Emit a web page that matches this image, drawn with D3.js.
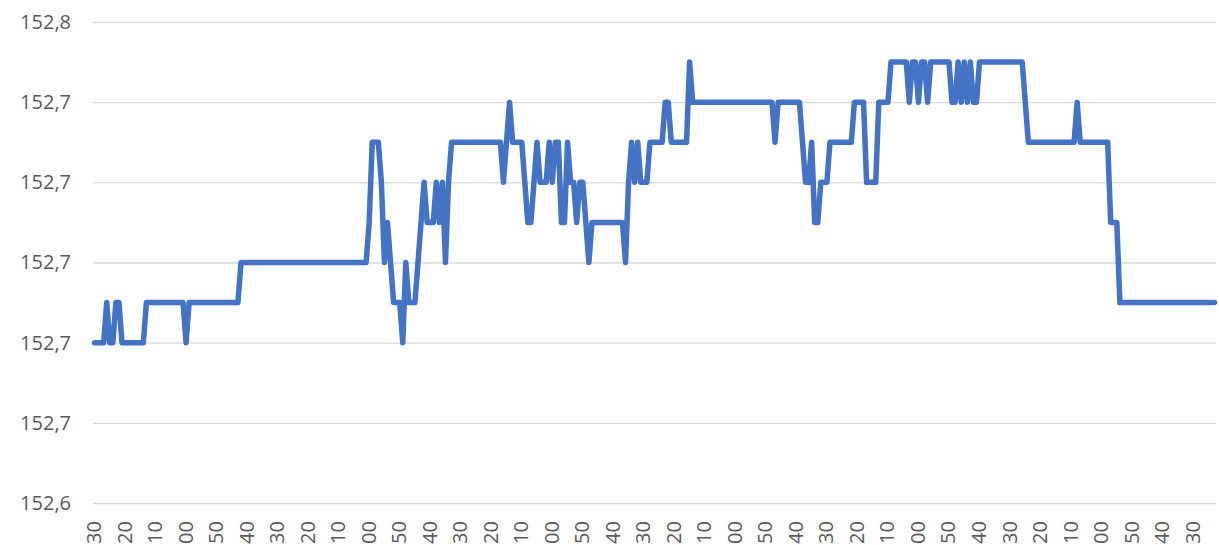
<!DOCTYPE html>
<html>
<head>
<meta charset="utf-8">
<script src="https://cdn.jsdelivr.net/npm/d3@7"></script>
<style>
	body { margin: 0; background: #ffffff; }
	svg { display: block; }
	text { font-family: "Open Sans", "Noto Sans", sans-serif; fill: #595959; }
</style>
</head>
<body>
<div class="chart"></div>
<script>
//Tick labels shown on the category axis (one every 10 points)
var timeLabels = ["30","20","10","00","50","40","30","20","10","00","50","40",
	"30","20","10","00","50","40","30","20","10","00","50","40",
	"30","20","10","00","50","40","30","20","10","00","50","40","30"];

//Value axis ticks
var yTicks = [152.64, 152.66, 152.68, 152.70, 152.72, 152.74, 152.76];

//The series, one line per 10 points
var priceValues = [
	152.68,152.68,152.68,152.68,152.69,152.68,152.68,152.69,152.69,152.68,
	152.68,152.68,152.68,152.68,152.68,152.68,152.68,152.69,152.69,152.69,
	152.69,152.69,152.69,152.69,152.69,152.69,152.69,152.69,152.69,152.69,
	152.68,152.69,152.69,152.69,152.69,152.69,152.69,152.69,152.69,152.69,
	152.69,152.69,152.69,152.69,152.69,152.69,152.69,152.69,152.70,152.70,
	152.70,152.70,152.70,152.70,152.70,152.70,152.70,152.70,152.70,152.70,
	152.70,152.70,152.70,152.70,152.70,152.70,152.70,152.70,152.70,152.70,
	152.70,152.70,152.70,152.70,152.70,152.70,152.70,152.70,152.70,152.70,
	152.70,152.70,152.70,152.70,152.70,152.70,152.70,152.70,152.70,152.70,
	152.71,152.73,152.73,152.73,152.72,152.70,152.71,152.70,152.69,152.69,
	152.69,152.68,152.70,152.69,152.69,152.69,152.70,152.71,152.72,152.71,
	152.71,152.71,152.72,152.71,152.72,152.70,152.72,152.73,152.73,152.73,
	152.73,152.73,152.73,152.73,152.73,152.73,152.73,152.73,152.73,152.73,
	152.73,152.73,152.73,152.73,152.72,152.73,152.74,152.73,152.73,152.73,
	152.73,152.72,152.71,152.71,152.72,152.73,152.72,152.72,152.72,152.73,
	152.72,152.73,152.73,152.71,152.71,152.73,152.72,152.72,152.71,152.72,
	152.72,152.71,152.70,152.71,152.71,152.71,152.71,152.71,152.71,152.71,
	152.71,152.71,152.71,152.71,152.70,152.72,152.73,152.72,152.73,152.72,
	152.72,152.72,152.73,152.73,152.73,152.73,152.73,152.74,152.74,152.73,
	152.73,152.73,152.73,152.73,152.73,152.75,152.74,152.74,152.74,152.74,
	152.74,152.74,152.74,152.74,152.74,152.74,152.74,152.74,152.74,152.74,
	152.74,152.74,152.74,152.74,152.74,152.74,152.74,152.74,152.74,152.74,
	152.74,152.74,152.74,152.73,152.74,152.74,152.74,152.74,152.74,152.74,
	152.74,152.74,152.73,152.72,152.72,152.73,152.71,152.71,152.72,152.72,
	152.72,152.73,152.73,152.73,152.73,152.73,152.73,152.73,152.73,152.74,
	152.74,152.74,152.74,152.72,152.72,152.72,152.72,152.74,152.74,152.74,
	152.74,152.75,152.75,152.75,152.75,152.75,152.75,152.74,152.75,152.75,
	152.74,152.75,152.75,152.74,152.75,152.75,152.75,152.75,152.75,152.75,
	152.75,152.74,152.74,152.75,152.74,152.75,152.74,152.75,152.74,152.74,
	152.75,152.75,152.75,152.75,152.75,152.75,152.75,152.75,152.75,152.75,
	152.75,152.75,152.75,152.75,152.75,152.74,152.73,152.73,152.73,152.73,
	152.73,152.73,152.73,152.73,152.73,152.73,152.73,152.73,152.73,152.73,
	152.73,152.73,152.74,152.73,152.73,152.73,152.73,152.73,152.73,152.73,
	152.73,152.73,152.73,152.71,152.71,152.71,152.69,152.69,152.69,152.69,
	152.69,152.69,152.69,152.69,152.69,152.69,152.69,152.69,152.69,152.69,
	152.69,152.69,152.69,152.69,152.69,152.69,152.69,152.69,152.69,152.69,
	152.69,152.69,152.69,152.69,152.69,152.69,152.69,152.69
];

var w = 1219;
var h = 545;
var plotLeft = 93, plotRight = 1216;
var plotTop = 22, plotBottom = 503;

var svg = d3.select(".chart").append("svg")
	.attr("width", w)
	.attr("height", h);

var x = d3.scaleBand()
	.domain(d3.range(priceValues.length))
	.range([plotLeft, plotRight]);

var y = d3.scaleLinear()
	.domain([yTicks[0], yTicks[yTicks.length - 1]])
	.range([plotBottom, plotTop]);

//comma as decimal mark
var fmt = d3.formatLocale({decimal: ",", thousands: ".", grouping: [3], currency: ["", ""]}).format(".1f");

//gridlines + value labels
var yAxis = d3.axisLeft(y)
	.tickValues(yTicks)
	.tickSize(-(plotRight - plotLeft))
	.tickPadding(22)
	.tickFormat(fmt);

var yg = svg.append("g")
	.attr("transform", "translate(" + plotLeft + ",0)")
	.call(yAxis);
yg.select(".domain").remove();
yg.selectAll(".tick line")
	.attr("stroke", "#d9d9d9")
	.attr("stroke-width", 1.3);
yg.selectAll(".tick text")
	.style("font-size", "20px")
	.style("font-family", "'Open Sans', sans-serif")
	.attr("fill", "#595959");

//category labels, one every 10 points
var labelIdx = d3.range(0, priceValues.length, 10);
var xAxis = d3.axisBottom(x)
	.tickValues(labelIdx)
	.tickSize(0)
	.tickFormat(function(d, i){ return timeLabels[i]; });

var xg = svg.append("g")
	.attr("transform", "translate(0," + plotBottom + ")")
	.call(xAxis);
xg.select(".domain").remove();
xg.selectAll(".tick text")
	.style("font-size", "20px")
	.style("font-family", "'Open Sans', sans-serif")
	.attr("fill", "#595959")
	.attr("text-anchor", "end")
	.attr("dy", null)
	.attr("y", 0)
	.attr("dominant-baseline", "central")
	.attr("transform", "translate(-1,18) rotate(-90)");

var line = d3.line()
	.x(function(d, i){ return x(i) + x.bandwidth() / 2; })
	.y(function(d){ return y(d); });

svg.append("path")
	.datum(priceValues)
	.attr("d", line)
	.attr("fill", "none")
	.attr("stroke", "#4472c4")
	.attr("stroke-width", 5.5)
	.attr("stroke-linejoin", "round")
	.attr("stroke-linecap", "round");
</script>
</body>
</html>
